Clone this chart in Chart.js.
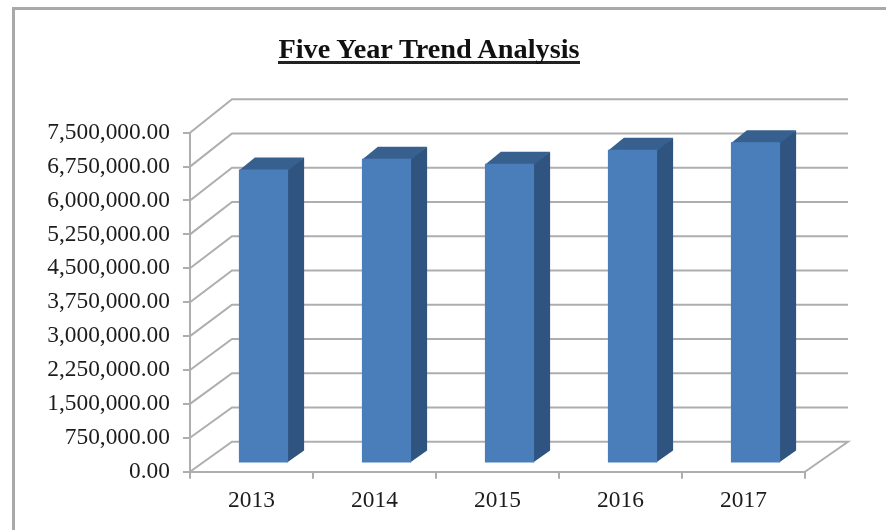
<!DOCTYPE html>
<html lang="en">
<head>
<script src="https://cdn.jsdelivr.net/npm/chart.js"></script>
<style>
    html, body { margin: 0; padding: 0; background: #fff; overflow: hidden; }
    #frame { position: absolute; left: 12px; top: 7px; width: 874px; height: 523px; border-left: 3px solid #a9a9a9; border-top: 3px solid #a9a9a9; box-sizing: border-box; }
    #title { position: absolute; left: 278px; top: 35px; width: 302px; text-align: center; white-space: nowrap; font: bold 28.3px "Liberation Serif"; color: #111; border-bottom: 3px solid #222; line-height: 28px; height: 26px; filter: blur(0.6px); }
    #wrap { position: absolute; left: 0; top: 0; width: 886px; height: 530px; filter: blur(0.7px); }
</style>
</head>
<body>
<div id="wrap"><canvas id="myChart" width="886" height="530"></canvas></div>
<div id="frame"></div>
<div id="title">Five Year Trend Analysis</div>
<script>
    const years = ['2013', '2014', '2015', '2016', '2017'];
    const trendValues = [6505000, 6741000, 6630000, 6940000, 7108000];
    const yTickLabels = ['0.00', '750,000.00', '1,500,000.00', '2,250,000.00', '3,000,000.00', '3,750,000.00',
        '4,500,000.00', '5,250,000.00', '6,000,000.00', '6,750,000.00', '7,500,000.00'];

    const gridColor = '#aeaeae';
    const textColor = '#1c1c1c';
    const serif = 'Liberation Serif';

    // bars stand a little inside the floor, so shift them while drawing
    const barShiftX = 12, barShiftY = -8.2;
    const barDepthX = 16, barDepthY = -12;

    const fake3d = {
        id: 'fake3d',
        beforeDatasetsDraw(chart) {
            const c = chart.ctx, y = chart.scales.y, area = chart.chartArea;
            c.save();
            c.strokeStyle = gridColor;
            c.lineWidth = 2;

            // wall lines, one per tick, the back wall is very slightly taller
            y.ticks.forEach(t => {
                const py = y.getPixelForValue(t.value);
                const up = 30 + 3.4 * t.value / y.max;
                c.beginPath();
                c.moveTo(area.left, py);
                c.lineTo(area.left + 42, py - up);
                c.lineTo(area.right + 43, py - up);
                if (t.value === 0) c.lineTo(area.right, py);
                c.stroke();
            });

            // side and top of each bar
            chart.getDatasetMeta(0).data.forEach(bar => {
                const right = bar.x + bar.width / 2 + barShiftX;
                const left = bar.x - bar.width / 2 + barShiftX;
                const top = bar.y + barShiftY;
                const bottom = bar.base + barShiftY;
                c.fillStyle = '#2f5480';
                c.beginPath();
                c.moveTo(right - 1, top);
                c.lineTo(right + barDepthX, top + barDepthY);
                c.lineTo(right + barDepthX, bottom + barDepthY);
                c.lineTo(right - 1, bottom);
                c.closePath();
                c.fill();
                c.fillStyle = '#38608f';
                c.beginPath();
                c.moveTo(left, top + 1);
                c.lineTo(left + barDepthX, top + barDepthY);
                c.lineTo(right + barDepthX, top + barDepthY);
                c.lineTo(right, top + 1);
                c.closePath();
                c.fill();
            });
            c.restore();
        },
        beforeDatasetDraw(chart) {
            chart.ctx.save();
            chart.ctx.translate(barShiftX, barShiftY);
        },
        afterDatasetDraw(chart) {
            chart.ctx.restore();
        }
    };

    const ctx = document.getElementById('myChart');
    const myChart = new Chart(ctx, {
        type: 'bar',
        data: {
            labels: years,
            datasets: [{
                data: trendValues,
                backgroundColor: '#4a7ebb',
                borderWidth: 0,
                categoryPercentage: 0.4,
                barPercentage: 1,
                clip: false
            }]
        },
        plugins: [fake3d],
        options: {
            responsive: false,
            animation: false,
            layout: { padding: { top: 132.7, right: 81, left: 0, bottom: 0 } },
            plugins: {
                legend: { display: false },
                tooltip: { enabled: false }
            },
            scales: {
                x: {
                    afterFit(scale) { scale.height = 58.3; },
                    grid: { drawOnChartArea: false, color: gridColor, tickLength: 7, lineWidth: 2 },
                    border: { color: gridColor, width: 2 },
                    ticks: {
                        color: textColor,
                        padding: 8,
                        font: { family: serif, size: 23.4 }
                    }
                },
                y: {
                    min: 0,
                    max: 7500000,
                    afterFit(scale) { scale.width = 190; },
                    grid: { drawOnChartArea: false, color: gridColor, tickLength: 7, lineWidth: 2 },
                    border: { color: gridColor, width: 2 },
                    ticks: {
                        stepSize: 750000,
                        color: textColor,
                        padding: 13,
                        font: { family: serif, size: 23.4 },
                        callback: (value, index) => yTickLabels[index]
                    }
                }
            }
        }
    });
</script>
</body>
</html>
